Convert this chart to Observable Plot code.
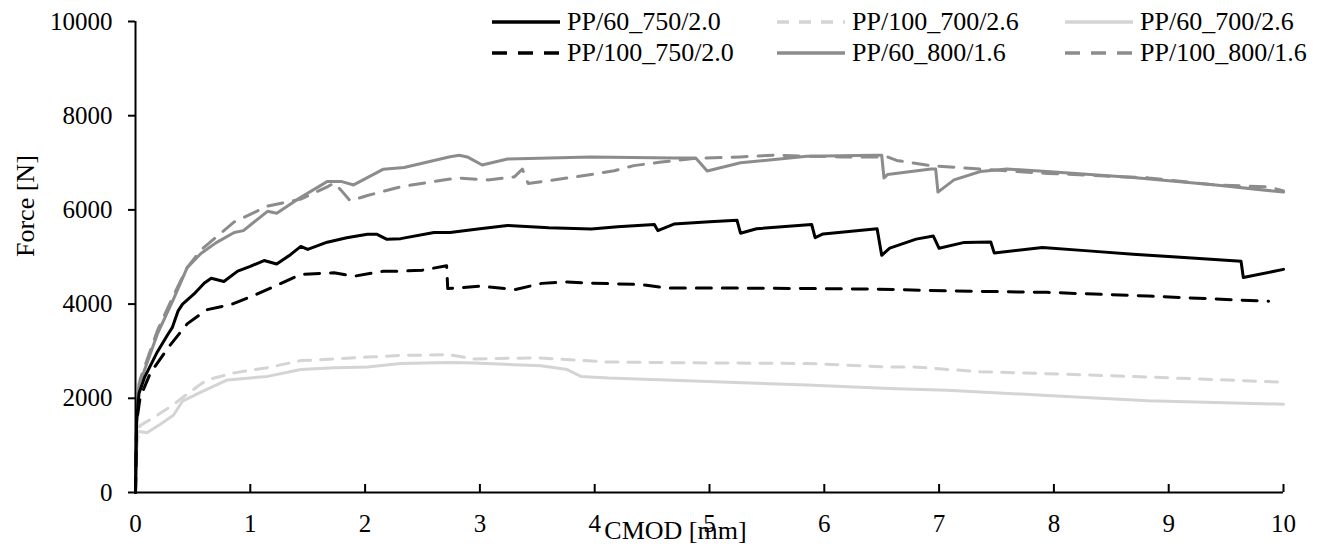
<!DOCTYPE html>
<html><head><meta charset="utf-8">
<script src="https://cdn.jsdelivr.net/npm/d3@7"></script>
<script src="https://cdn.jsdelivr.net/npm/@observablehq/plot@0.6"></script>
<style>
body{margin:0;background:#fff;}
#wrap{position:relative;width:1330px;height:552px;font-family:"Liberation Serif",serif;color:#000;}
.leg{position:absolute;display:flex;align-items:center;height:30px;font-size:26px;white-space:nowrap;}
.leg svg{margin-right:7px;display:block}
</style></head><body><div id="wrap"></div>
<script>
// ---- data ----
const xTicks = [0,1,2,3,4,5,6,7,8,9,10];
const yTicks = [0,2000,4000,6000,8000,10000];

const pp60_750 = [[0,0],[0.01,1500],[0.03,2100],[0.08,2450],[0.19,2985],[0.28,3350],[0.32,3500],[0.37,3850],[0.41,4000],[0.51,4215],[0.6,4450],[0.66,4550],[0.77,4480],[0.89,4700],[1.0,4800],[1.12,4925],[1.23,4850],[1.35,5050],[1.44,5225],[1.5,5160],[1.67,5315],[1.84,5410],[2.02,5485],[2.1,5485],[2.19,5375],[2.31,5390],[2.6,5520],[2.74,5520],[3.0,5600],[3.24,5670],[3.6,5620],[3.97,5595],[4.2,5640],[4.52,5690],[4.55,5560],[4.69,5700],[5.0,5750],[5.24,5780],[5.27,5505],[5.41,5600],[5.89,5690],[5.92,5410],[5.99,5490],[6.46,5600],[6.5,5035],[6.57,5190],[6.8,5380],[6.95,5445],[7.0,5185],[7.22,5310],[7.45,5320],[7.48,5087],[7.9,5200],[8.3,5130],[8.69,5060],[9.2,4980],[9.63,4908],[9.65,4565],[10,4737]];
const pp100_750 = [[0,0],[0.01,1500],[0.04,2015],[0.13,2540],[0.28,3060],[0.45,3580],[0.62,3880],[0.83,3990],[1.03,4180],[1.23,4400],[1.44,4630],[1.73,4665],[1.9,4590],[2.16,4700],[2.31,4700],[2.5,4720],[2.71,4815],[2.72,4330],[2.8,4340],[3.0,4380],[3.31,4310],[3.54,4440],[3.76,4470],[3.97,4445],[4.4,4415],[4.63,4340],[5.27,4340],[6.43,4320],[7.07,4280],[7.94,4250],[8.82,4170],[9.87,4060]];
const pp100_700 = [[0,0],[0.01,1000],[0.04,1420],[0.19,1640],[0.33,1865],[0.45,2090],[0.62,2390],[0.86,2540],[1.15,2650],[1.44,2800],[1.73,2835],[2.02,2875],[2.31,2910],[2.74,2925],[2.95,2834],[3.48,2860],[4.12,2770],[4.99,2750],[5.85,2740],[6.55,2665],[6.78,2665],[7.36,2565],[8.24,2500],[9.11,2425],[10,2340]];
const pp60_800 = [[0,0],[0.01,1600],[0.03,2300],[0.07,2540],[0.19,3360],[0.33,4100],[0.45,4775],[0.57,5075],[0.7,5300],[0.86,5520],[0.94,5560],[1.15,5970],[1.23,5930],[1.44,6270],[1.6,6500],[1.67,6605],[1.79,6605],[1.9,6530],[2.16,6865],[2.34,6900],[2.6,7050],[2.74,7130],[2.82,7160],[2.89,7125],[3.02,6953],[3.24,7080],[3.97,7125],[4.69,7100],[4.88,7100],[4.98,6826],[5.27,7000],[5.85,7140],[6.43,7160],[6.5,7160],[6.52,6677],[6.55,6750],[6.93,6870],[6.97,6870],[6.99,6378],[7.13,6637],[7.36,6815],[7.59,6870],[7.94,6815],[8.69,6690],[9.41,6530],[10,6378]];
const pp60_700 = [[0,0],[0.01,900],[0.02,1300],[0.1,1270],[0.22,1455],[0.33,1640],[0.41,1940],[0.57,2130],[0.8,2390],[1.15,2465],[1.44,2610],[1.73,2650],[2.02,2665],[2.31,2740],[2.74,2760],[2.95,2750],[3.53,2690],[3.76,2610],[3.88,2465],[4.12,2430],[4.99,2355],[5.85,2280],[6.57,2210],[7.07,2170],[7.94,2060],[8.82,1950],[10,1875]];
const pp100_800 = [[0,0],[0.01,1700],[0.04,2400],[0.19,3430],[0.33,4180],[0.45,4775],[0.57,5150],[0.86,5745],[1.15,6080],[1.44,6230],[1.67,6490],[1.73,6570],[1.79,6420],[1.87,6195],[2.02,6305],[2.31,6490],[2.6,6605],[2.74,6655],[2.8,6677],[3.07,6637],[3.3,6700],[3.37,6865],[3.42,6560],[3.76,6677],[3.97,6750],[4.17,6830],[4.34,6940],[4.58,7015],[4.86,7090],[5.27,7125],[5.56,7160],[6.14,7125],[6.55,7125],[6.63,7050],[6.93,6940],[7.36,6865],[7.94,6775],[8.82,6680],[9.4,6530],[9.87,6490],[10,6400]];

const seriesNames = ["PP/60_750/2.0","PP/100_700/2.6","PP/60_700/2.6","PP/100_750/2.0","PP/60_800/1.6","PP/100_800/1.6"];
const seriesData = [pp60_750, pp100_700, pp60_700, pp100_750, pp60_800, pp100_800];
const seriesColors = ["#000000","#d4d4d4","#d4d4d4","#000000","#8c8c8c","#8c8c8c"];
const seriesDash = [null,"12,10",null,"15,11",null,"15,11"];
const drawOrder = [2,1,4,5,3,0];

// ---- chart ----
const lineMarks = drawOrder.map(i => Plot.line(seriesData[i], {
  x: d => d[0], y: d => d[1], stroke: seriesColors[i], strokeWidth: 3,
  strokeDasharray: seriesDash[i] || undefined, strokeLinejoin: "round"
}));

const chart = Plot.plot({
  width: 1330, height: 552,
  marginLeft: 135, marginRight: 47, marginTop: 21, marginBottom: 60,
  style: {fontFamily: "Liberation Serif", fontSize: "25px", background: "#fff", color: "#000", overflow: "visible"},
  x: {domain: [0, 10]},
  y: {domain: [0, 10000]},
  marks: [
    ...lineMarks,
    Plot.axisY({ticks: yTicks, tickSize: 7, tickPadding: 16, strokeWidth: 2, label: null, tickFormat: d3.format("d")}),
    Plot.axisX({ticks: xTicks, tickSize: 0, tickPadding: 22, label: null, tickFormat: d3.format("d")}),
    Plot.ruleX(xTicks, {x: d => d, y1: 0, y2: 0, insetTop: -8, strokeWidth: 2}),
    Plot.ruleY([0], {strokeWidth: 2}),
    Plot.ruleX([0], {strokeWidth: 2}),
    Plot.text(["Force [N]"], {text: d => d, frameAnchor: "left", rotate: -90, dx: -110, fontSize: 26}),
    Plot.text(["CMOD [mm]"], {text: d => d, frameAnchor: "bottom", dx: -34, dy: 46, fontSize: 26})
  ]
});
const wrap = document.getElementById("wrap");
wrap.appendChild(chart);

// ---- legend (3 columns x 2 rows) ----
const colX = [492, 777, 1065];
const rowY = [22, 53];
seriesNames.forEach((name, i) => {
  const c = i % 3, r = Math.floor(i / 3);
  const div = document.createElement("div");
  div.className = "leg";
  div.style.left = colX[c] + "px";
  div.style.top = (rowY[r] - 15) + "px";
  const dash = seriesDash[i] ? `stroke-dasharray="${seriesDash[i]}"` : "";
  div.innerHTML = `<svg width="68" height="10"><line x1="0" y1="5" x2="68" y2="5" stroke="${seriesColors[i]}" stroke-width="3.5" ${dash}/></svg><span>${name}</span>`;
  wrap.appendChild(div);
});
</script>
</body></html>
